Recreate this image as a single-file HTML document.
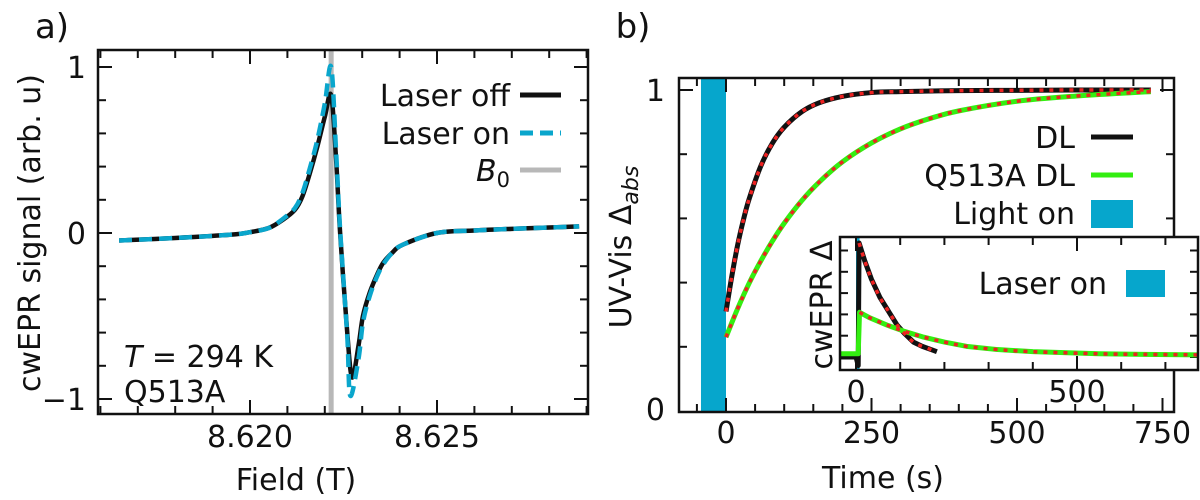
<!DOCTYPE html>
<html><head><meta charset="utf-8"><style>
body{margin:0;background:#fff;}
svg{display:block;font-family:"DejaVu Sans","Liberation Sans",sans-serif;}
text{fill:#111;}
</style></head><body>
<svg id="fig" width="1200" height="500" viewBox="0 0 1200 500">
<g id="pa"></g>
<g id="pb"></g>
<g id="pi"></g>
</svg>
<script>
// ---- Panel a data ----
const fieldOff=[8.6165,8.6180,8.6195,8.6200,8.6205,8.62088,8.6212,8.6214,8.6216,8.6218,8.6220,8.62217,8.6223,8.62241,8.6226,8.62273,8.6229,8.62302,8.6232,8.6234,8.62356,8.6238,8.62409,8.6250,8.6260,8.6270,8.6280,8.6288];
const sigOff=[-0.045,-0.03,-0.01,0.005,0.03,0.08,0.14,0.22,0.36,0.52,0.7,0.83,0.45,0.0,-0.6,-0.87,-0.68,-0.5,-0.36,-0.25,-0.18,-0.12,-0.07,0.0,0.015,0.025,0.033,0.04];
const fieldOn=[8.6165,8.6180,8.6195,8.6200,8.6205,8.62088,8.6212,8.6214,8.6216,8.6218,8.6220,8.62217,8.6223,8.62241,8.6226,8.62268,8.6229,8.62302,8.6232,8.6234,8.62356,8.6238,8.62409,8.6250,8.6260,8.6270,8.6280,8.6288];
const sigOn=[-0.045,-0.03,-0.01,0.005,0.03,0.085,0.15,0.24,0.39,0.56,0.78,1.0,0.5,0.02,-0.62,-0.98,-0.76,-0.54,-0.38,-0.26,-0.19,-0.12,-0.07,0.0,0.015,0.025,0.033,0.04];
const b0Field=[8.62217];
const aXTicks=[8.620,8.625];
const aXTickLabels=["8.620","8.625"];
const aYTicks=[-1,0,1];
const aYTickLabels=["\u22121","0","1"];
// ---- Panel b data ----
const tDL=[0,10,20,30,40,60,80,100,130,160,200,250,300,400,500,600,730];
const absDL=[0.31,0.42,0.517,0.596,0.662,0.764,0.835,0.884,0.932,0.96,0.98,0.992,0.995,0.998,0.999,1,1];
const tQ=[0,20,40,60,80,100,130,160,200,250,300,350,400,500,600,730];
const absQ=[0.23,0.319,0.399,0.468,0.53,0.585,0.655,0.713,0.776,0.835,0.879,0.911,0.935,0.965,0.981,0.995];
const lightOn=[-43,0];
const bXTicks=[0,250,500,750];
const bXTickLabels=["0","250","500","750"];
const bYTicks=[0,1];
const bYTickLabels=["0","1"];
// ---- Inset data ----
const tInDL=[-35,0,5,7,20,35,54,75,93,110,130,150,170,183];
const epDL=[0,0,-0.08,1.07,0.9,0.73,0.56,0.42,0.3,0.22,0.14,0.1,0.07,0.05];
const tInQ=[-35,5,8,30,70,110,150,200,250,320,400,550,650,774];
const epQ=[0.03,0.03,0.42,0.37,0.3,0.24,0.19,0.14,0.1,0.07,0.05,0.03,0.025,0.02];
const laserOn=[0,8];
const iXTicks=[0,500];
const iXTickLabels=["0","500"];

const NS="http://www.w3.org/2000/svg";
function mk(parent,tag,attrs,name){const e=document.createElementNS(NS,tag);for(const k in attrs)e.setAttribute(k,attrs[k]);


parent.appendChild(e);return e;}
function txt(parent,x,y,s,name,anchor,size){const t=mk(parent,'text',{x:x,y:y,'text-anchor':anchor||'middle','font-size':size||30},name);t.textContent=s;return t;}
function lin(d0,d1,r0,r1){return v=>r0+(v-d0)/(d1-d0)*(r1-r0);}
function path(p,xs,ys,X,Y,st,name,smooth){
const P=xs.map((v,i)=>[X(v),Y(ys[i])]);let d='M'+P[0][0].toFixed(2)+','+P[0][1].toFixed(2);
for(let i=0;i<P.length-1;i++){
 if(!smooth){d+='L'+P[i+1][0].toFixed(2)+','+P[i+1][1].toFixed(2);continue;}
 const p0=P[Math.max(i-1,0)],p1=P[i],p2=P[i+1],p3=P[Math.min(i+2,P.length-1)];const k=1/6;
 const c1=[p1[0]+(p2[0]-p0[0])*k,p1[1]+(p2[1]-p0[1])*k],c2=[p2[0]-(p3[0]-p1[0])*k,p2[1]-(p3[1]-p1[1])*k];
 d+='C'+c1.map(v=>v.toFixed(2)).join(',')+' '+c2.map(v=>v.toFixed(2)).join(',')+' '+p2[0].toFixed(2)+','+p2[1].toFixed(2);}
return mk(p,'path',Object.assign({d:d,fill:'none','stroke-linejoin':'round'},st),name);}
function tick(p,x1,y1,x2,y2,name){mk(p,'line',{x1:x1,y1:y1,x2:x2,y2:y2,stroke:'#111','stroke-width':2},name);}

// ===== Panel a =====
const A=document.getElementById('pa');
const aL=98,aR=588,aT=50,aB=414;
const ax=lin(8.620,8.625,250,437), ay=lin(0,1,233,67);
txt(A,52,38,'a)','panel-a-label','middle',34);
mk(A,'rect',{x:ax(b0Field[0])-2.5,y:aT,width:5,height:aB-aT,fill:'#b8b8b8'},'b0-line');
for(let f=8.616;f<=8.6290001;f+=0.001){const x=ax(f);const maj=Math.abs(f-8.620)<1e-6||Math.abs(f-8.625)<1e-6;const L=maj?14:8;
tick(A,x,aB,x,aB-L,'x-tick');tick(A,x,aT,x,aT+L,'x-tick-top');}
for(let v=-1;v<=1.0001;v+=0.2){const y=ay(v);const maj=Math.abs(v-Math.round(v))<1e-6;const L=maj?14:8;
tick(A,aL,y,aL+L,y,'y-tick');tick(A,aR,y,aR-L,y,'y-tick-right');}
aXTicks.forEach((v,i)=>txt(A,ax(v),447,aXTickLabels[i],'x-tick-label'));
aYTicks.forEach((v,i)=>txt(A,86,ay(v)+11,aYTickLabels[i],'y-tick-label','end'));
path(A,fieldOff,sigOff,ax,ay,{stroke:'#111','stroke-width':4.5},'laser-off-line',true);
path(A,fieldOn,sigOn,ax,ay,{stroke:'#0aa6cc','stroke-width':4.5,'stroke-dasharray':'13 7'},'laser-on-line',true);
mk(A,'rect',{x:aL,y:aT,width:aR-aL,height:aB-aT,fill:'none',stroke:'#111','stroke-width':2.5},'plot-frame');
txt(A,510,106,'Laser off','legend-laser-off','end');
mk(A,'line',{x1:520,y1:95,x2:561,y2:95,stroke:'#111','stroke-width':5},'legend-laser-off-swatch');
txt(A,510,144,'Laser on','legend-laser-on','end');
mk(A,'line',{x1:520,y1:133,x2:561,y2:133,stroke:'#0aa6cc','stroke-width':5,'stroke-dasharray':'13 7'},'legend-laser-on-swatch');
const b0t=txt(A,510,181,'','legend-b0','end');b0t.innerHTML='<tspan font-style="italic">B</tspan><tspan font-size="21" dy="6">0</tspan>';
mk(A,'line',{x1:520,y1:170,x2:561,y2:170,stroke:'#b8b8b8','stroke-width':5},'legend-b0-swatch');
const tt=txt(A,124,367,'','temperature-annotation','start');tt.innerHTML='<tspan font-style="italic">T</tspan> = 294 K';
txt(A,124,402,'Q513A','sample-annotation','start');
txt(A,296,490,'Field (T)','x-axis-title');
txt(A,30,233,'cwEPR signal (arb. u)','y-axis-title').setAttribute('transform','rotate(-90 30 233) translate(0 10)');

// ===== Panel b =====
const B=document.getElementById('pb');
const bL=679,bR=1174,bT=78,bB=412;
const bx=lin(0,250,726,871.5), by=lin(0,1,411,90);
txt(B,633,38,'b)','panel-b-label','middle',34);
mk(B,'rect',{x:bx(lightOn[0]),y:bT,width:bx(lightOn[1])-bx(lightOn[0]),height:bB-bT,fill:'#06a6cc'},'light-on-bar');
for(let t=-50;t<=750;t+=50){const x=bx(t);const maj=t%250===0;const L=maj?14:8;
tick(B,x,bB,x,bB-L,'x-tick');tick(B,x,bT,x,bT+L,'x-tick-top');}
for(let v=0.2;v<=1.0001;v+=0.2){const y=by(v);const maj=Math.abs(v-1)<1e-6;const L=maj?14:8;
tick(B,bL,y,bL+L,y,'y-tick');tick(B,bR,y,bR-L,y,'y-tick-right');}
bXTicks.forEach((v,i)=>txt(B,bx(v),443,bXTickLabels[i],'x-tick-label'));
bYTicks.forEach((v,i)=>txt(B,665,Math.min(by(v)+11,420),bYTickLabels[i],'y-tick-label','end'));
path(B,tDL,absDL,bx,by,{stroke:'#111','stroke-width':5},'dl-line',true);
path(B,tQ,absQ,bx,by,{stroke:'#33ee11','stroke-width':5},'q513a-line',true);
path(B,tDL,absDL,bx,by,{stroke:'#ee2222','stroke-width':3.5,'stroke-dasharray':'4 6'},'dl-fit',true);
path(B,tQ,absQ,bx,by,{stroke:'#ee2222','stroke-width':3.5,'stroke-dasharray':'4 6'},'q513a-fit',true);
mk(B,'rect',{x:bL,y:bT,width:bR-bL,height:bB-bT,fill:'none',stroke:'#111','stroke-width':2.5},'plot-frame');
txt(B,1075,148,'DL','legend-dl','end');
mk(B,'line',{x1:1091,y1:137,x2:1133,y2:137,stroke:'#111','stroke-width':5},'legend-dl-swatch');
txt(B,1075,186,'Q513A DL','legend-q513a','end');
mk(B,'line',{x1:1091,y1:175,x2:1133,y2:175,stroke:'#33ee11','stroke-width':5},'legend-q513a-swatch');
txt(B,1075,224,'Light on','legend-light-on','end');
mk(B,'rect',{x:1091,y:200,width:42,height:28,fill:'#06a6cc'},'legend-light-on-swatch');
txt(B,883,488,'Time (s)','x-axis-title');
const yt=txt(B,621,247,'','y-axis-title');yt.innerHTML='UV-Vis Δ<tspan font-style="italic" font-size="22" dy="7">abs</tspan>';
yt.setAttribute('transform','rotate(-90 621 247) translate(0 10)');

// ===== Inset =====
const I=document.getElementById('pi');
const iL=840,iR=1198,iT=237,iB=370;
const ix=lin(0,500,856,1077), iy=lin(0,1,357,250.5);
mk(I,'rect',{x:iL,y:iT,width:iR-iL,height:iB-iT,fill:'#fff'},'inset-background');
mk(I,'rect',{x:ix(laserOn[0]),y:iT,width:ix(laserOn[1])-ix(laserOn[0]),height:iB-iT,fill:'#06a6cc'},'laser-on-bar');
for(let t=0;t<=700;t+=100){const x=ix(t);const maj=t%500===0;const L=maj?14:8;
tick(I,x,iB,x,iB-L,'inset-x-tick');tick(I,x,iT,x,iT+L,'inset-x-tick-top');}
for(let v=0;v<=1.0001;v+=0.2){const y=iy(v);tick(I,iL,y,iL+8,y,'inset-y-tick');tick(I,iR,y,iR-8,y,'inset-y-tick-right');}
iXTicks.forEach((v,i)=>txt(I,ix(v),402,iXTickLabels[i],'inset-x-tick-label'));
path(I,tInDL,epDL,ix,iy,{stroke:'#111','stroke-width':5},'inset-dl-line');
path(I,tInQ,epQ,ix,iy,{stroke:'#33ee11','stroke-width':5},'inset-q513a-line');
path(I,tInDL.slice(3),epDL.slice(3),ix,iy,{stroke:'#ee2222','stroke-width':3.5,'stroke-dasharray':'4 6'},'inset-dl-fit',true);
path(I,tInQ.slice(2),epQ.slice(2),ix,iy,{stroke:'#ee2222','stroke-width':3.5,'stroke-dasharray':'4 6'},'inset-q513a-fit',true);
mk(I,'rect',{x:iL,y:iT,width:iR-iL,height:iB-iT,fill:'none',stroke:'#111','stroke-width':2.5},'inset-frame');
txt(I,1107,294,'Laser on','inset-legend-laser-on','end');
mk(I,'rect',{x:1126,y:270,width:39,height:27,fill:'#06a6cc'},'inset-legend-laser-on-swatch');
txt(I,822,305,'cwEPR Δ','inset-y-axis-title').setAttribute('transform','rotate(-90 822 305) translate(0 10)');
</script>
</body></html>
